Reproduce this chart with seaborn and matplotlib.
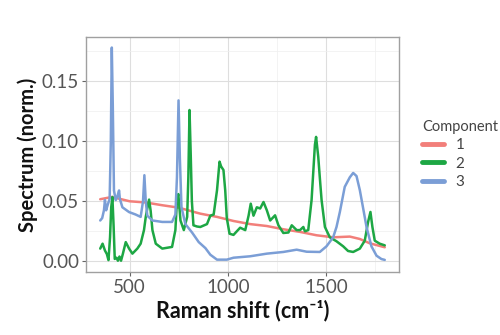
import numpy as np
import pandas as pd
import matplotlib
matplotlib.use("Agg")
import matplotlib.pyplot as plt
import seaborn as sns
from matplotlib.ticker import MultipleLocator

# ---- data ----
wn1 = [350, 410, 500, 582, 666, 750, 835, 860, 945, 1029, 1114, 1199, 1283,
       1368, 1452, 1537, 1622, 1673, 1724, 1800]
c1 = [0.0517, 0.0536, 0.050, 0.049, 0.0467, 0.0447, 0.0408, 0.0397, 0.037,
      0.0336, 0.031, 0.0294, 0.0267, 0.0245, 0.0217, 0.020, 0.0206, 0.0186,
      0.015, 0.0117]

wn2 = [350, 362, 374, 384, 392, 400, 406, 412, 418, 424, 433, 440, 448, 456,
       465, 480, 497, 514, 539, 556, 573, 582, 590, 599, 607, 616, 633, 666,
       716, 733, 741, 748, 759, 776, 793, 799, 805, 811, 817, 825, 843, 860,
       894, 911, 928, 945, 958, 966, 978, 987, 995, 1009, 1029, 1046, 1063,
       1089, 1106, 1117, 1131, 1148, 1165, 1182, 1199, 1216, 1241, 1258, 1283,
       1309, 1326, 1351, 1368, 1385, 1393, 1410, 1427, 1444, 1450, 1461, 1469,
       1478, 1495, 1520, 1554, 1588, 1613, 1639, 1673, 1698, 1715, 1727, 1737,
       1749, 1774, 1800]
c2 = [0.0106, 0.0147, 0.009, 0.006, 0.001, 0.020, 0.045, 0.0536, 0.030, 0.002,
      0.003, 0.0005, 0.004, 0.0005, 0.006, 0.016, 0.0106, 0.0064, 0.0106,
      0.0147, 0.026, 0.037, 0.044, 0.0514, 0.042, 0.026, 0.0147, 0.0106, 0.012,
      0.026, 0.051, 0.056, 0.034, 0.026, 0.037, 0.070, 0.126, 0.090, 0.050,
      0.030, 0.029, 0.0286, 0.031, 0.038, 0.039, 0.059, 0.083, 0.079, 0.076,
      0.059, 0.036, 0.023, 0.022, 0.025, 0.028, 0.026, 0.038, 0.048, 0.038,
      0.045, 0.044, 0.0494, 0.0425, 0.034, 0.0383, 0.030, 0.0236, 0.024, 0.030,
      0.026, 0.026, 0.0286, 0.025, 0.026, 0.051, 0.097, 0.1036, 0.087, 0.0697,
      0.051, 0.0286, 0.020, 0.0167, 0.0125, 0.0086, 0.0078, 0.0106, 0.0172,
      0.0328, 0.0411, 0.0286, 0.0172, 0.0147, 0.0133]

wn3 = [350, 360, 369, 374, 380, 388, 398, 404, 409, 414, 420, 429, 437, 446,
       450, 463, 497, 530, 556, 568, 575, 582, 590, 616, 666, 716, 733, 741,
       749, 756, 764, 784, 818, 852, 886, 911, 945, 995, 1029, 1114, 1199,
       1283, 1351, 1402, 1469, 1503, 1537, 1554, 1571, 1596, 1622, 1639, 1656,
       1673, 1690, 1707, 1732, 1758, 1783, 1800]
c3 = [0.034, 0.036, 0.0425, 0.051, 0.0425, 0.047, 0.052, 0.100, 0.178, 0.130,
      0.059, 0.051, 0.054, 0.059, 0.052, 0.045, 0.041, 0.039, 0.037, 0.050,
      0.0717, 0.050, 0.038, 0.034, 0.0328, 0.0328, 0.039, 0.070, 0.134, 0.085,
      0.045, 0.031, 0.024, 0.016, 0.011, 0.0055, 0.0014, 0.0014, 0.003, 0.0042,
      0.0064, 0.0078, 0.0097, 0.008, 0.0078, 0.0125, 0.020, 0.0286, 0.041,
      0.062, 0.070, 0.0736, 0.071, 0.0592, 0.044, 0.0286, 0.0125, 0.0047,
      0.0019, 0.0012]

components = ["1", "2", "3"]
colors = ["#F27F7A", "#1DA744", "#7B9ED6"]

df = pd.concat([
    pd.DataFrame({"wn": wn1, "val": c1, "Component": "1"}),
    pd.DataFrame({"wn": wn2, "val": c2, "Component": "2"}),
    pd.DataFrame({"wn": wn3, "val": c3, "Component": "3"}),
], ignore_index=True)

sns.set_theme(style="white")
plt.rcParams["font.family"] = ["Lato", "DejaVu Sans"]

fig = plt.figure(figsize=(5.0, 3.35), dpi=100)
ax = fig.add_axes([0.172, 0.188, 0.626, 0.702])

sns.lineplot(data=df, x="wn", y="val", hue="Component", hue_order=components,
             palette=colors, linewidth=1.8, ax=ax, sort=False, legend=True)

ax.set_xlim(277.5, 1872.5)
ax.set_ylim(-0.0089, 0.1869)
ax.xaxis.set_major_locator(MultipleLocator(500))
ax.xaxis.set_minor_locator(MultipleLocator(250))
ax.yaxis.set_major_locator(MultipleLocator(0.05))
ax.yaxis.set_minor_locator(MultipleLocator(0.025))
ax.set_yticks([0.0, 0.05, 0.10, 0.15])
ax.set_yticklabels(["0.00", "0.05", "0.10", "0.15"])

ax.grid(True, which="major", color="#DEDEDE", linewidth=0.8)
ax.grid(True, which="minor", color="#EFEFEF", linewidth=0.5)
ax.set_axisbelow(True)
for s in ax.spines.values():
    s.set_color("#A0A0A0")
    s.set_linewidth(1.0)

ax.tick_params(axis="both", which="major", labelsize=13.5, colors="#666666",
               length=3, width=0.8, direction="out", pad=2, bottom=True, left=True)
ax.tick_params(axis="both", which="minor", length=0)
for lab in ax.get_xticklabels() + ax.get_yticklabels():
    lab.set_color("#555555")

ax.set_xlabel("Raman shift (cm\u207b\u00b9)", fontsize=15.5, fontweight="bold",
              color="#111111", labelpad=3)
ax.set_ylabel("Spectrum (norm.)", fontsize=14.5, fontweight="bold",
              color="#111111", labelpad=3)

leg = ax.legend(title="Component", loc="center left", bbox_to_anchor=(1.03, 0.5),
                frameon=False, fontsize=11, title_fontsize=10.5,
                handlelength=1.4, handletextpad=0.8, labelspacing=0.3)
leg._legend_box.align = "left"
for t in leg.get_texts():
    t.set_color("#444444")
leg.get_title().set_color("#444444")
for h in leg.get_lines():
    h.set_linewidth(3.5)

fig.savefig("out.png", dpi=100)
